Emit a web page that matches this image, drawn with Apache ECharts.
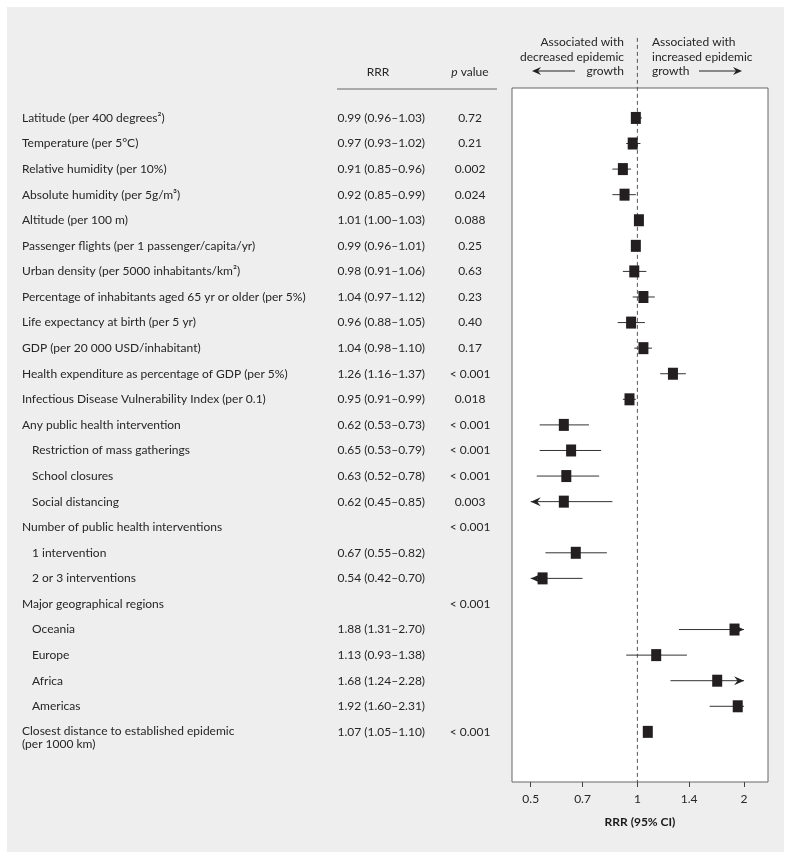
<!DOCTYPE html>
<html>
<head>
<meta charset="utf-8">
<script src="https://cdn.jsdelivr.net/npm/echarts@6/dist/echarts.min.js"></script>
<style>
html,body{margin:0;padding:0;background:#fff;}
#main{width:791px;height:859px;}
</style>
</head>
<body>
<div id="main"></div>
<script>
const names = [
  'Latitude (per 400 degrees\u00B2)',
  'Temperature (per 5\u00B0C)',
  'Relative humidity (per 10%)',
  'Absolute humidity (per 5g/m\u00B3)',
  'Altitude (per 100 m)',
  'Passenger flights (per 1 passenger/capita/yr)',
  'Urban density (per 5000 inhabitants/km\u00B2)',
  'Percentage of inhabitants aged 65 yr or older (per 5%)',
  'Life expectancy at birth (per 5 yr)',
  'GDP (per 20 000 USD/inhabitant)',
  'Health expenditure as percentage of GDP (per 5%)',
  'Infectious Disease Vulnerability Index (per 0.1)',
  'Any public health intervention',
  'Restriction of mass gatherings',
  'School closures',
  'Social distancing',
  'Number of public health interventions',
  '1 intervention',
  '2 or 3 interventions',
  'Major geographical regions',
  'Oceania',
  'Europe',
  'Africa',
  'Americas',
  'Closest distance to established epidemic\n(per 1000 km)'
];
const level = [0,0,0,0,0,0,0,0,0,0,0,0,0,1,1,1,0,1,1,0,1,1,1,1,0];
const rrrText = [
  '0.99 (0.96\u20131.03)','0.97 (0.93\u20131.02)','0.91 (0.85\u20130.96)','0.92 (0.85\u20130.99)',
  '1.01 (1.00\u20131.03)','0.99 (0.96\u20131.01)','0.98 (0.91\u20131.06)','1.04 (0.97\u20131.12)',
  '0.96 (0.88\u20131.05)','1.04 (0.98\u20131.10)','1.26 (1.16\u20131.37)','0.95 (0.91\u20130.99)',
  '0.62 (0.53\u20130.73)','0.65 (0.53\u20130.79)','0.63 (0.52\u20130.78)','0.62 (0.45\u20130.85)',
  '','0.67 (0.55\u20130.82)','0.54 (0.42\u20130.70)','',
  '1.88 (1.31\u20132.70)','1.13 (0.93\u20131.38)','1.68 (1.24\u20132.28)','1.92 (1.60\u20132.31)',
  '1.07 (1.05\u20131.10)'
];
const pText = [
  '0.72','0.21','0.002','0.024','0.088','0.25','0.63','0.23','0.40','0.17','< 0.001','0.018',
  '< 0.001','< 0.001','< 0.001','0.003','< 0.001','','','< 0.001','','','','','< 0.001'
];
const est = [0.99,0.97,0.91,0.92,1.01,0.99,0.98,1.04,0.96,1.04,1.26,0.95,0.62,0.65,0.63,0.62,null,0.67,0.54,null,1.88,1.13,1.68,1.92,1.07];
const lo  = [0.96,0.93,0.85,0.85,1.00,0.96,0.91,0.97,0.88,0.98,1.16,0.91,0.53,0.53,0.52,0.45,null,0.55,0.42,null,1.31,0.93,1.24,1.60,1.05];
const hi  = [1.03,1.02,0.96,0.99,1.03,1.01,1.06,1.12,1.05,1.10,1.37,0.99,0.73,0.79,0.78,0.85,null,0.82,0.70,null,2.70,1.38,2.28,2.31,1.10];
const ciArrow = [null,null,null,null,null,null,null,null,null,null,null,null,null,null,null,'left',null,null,'left',null,'right',null,'right',null,null];
const tickValues = [0.5, 0.7, 1, 1.4, 2];
const tickLabels = ['0.5','0.7','1','1.4','2'];
const clipMin = 0.5, clipMax = 2;

const FONT = 'Lato';
const TXT = '#262626';
const FS = 12;
const Y_MIN = -1.17, Y_MAX = 25.96;
const ln = Math.log;

const chart = echarts.init(document.getElementById('main'), null, {renderer: 'canvas'});

const forestData = [];
est.forEach((e, i) => { if (e != null) forestData.push([ln(e), i, ln(lo[i]), ln(hi[i])]); });
const tableData = names.map((n, i) => [0, i]);

function arrowHead(x, y, dir, color) {
  const s = dir === 'right' ? 1 : -1;
  return {
    type: 'polygon',
    shape: {points: [[x, y], [x - s * 10, y - 4.5], [x - s * 6.5, y], [x - s * 10, y + 4.5]]},
    style: {fill: color}
  };
}

const option = {
  backgroundColor: '#fff',
  animation: false,
  textStyle: {fontFamily: FONT},
  graphic: [
    {type: 'rect', z: -10, shape: {x: 7, y: 7, width: 777, height: 845}, style: {fill: '#edeeed'}},
    {type: 'text', style: {x: 378, y: 72, text: 'RRR', fill: TXT, font: FS + 'px ' + FONT, textAlign: 'center', textVerticalAlign: 'middle'}},
    {type: 'text', style: {x: 470, y: 72, text: '{i|p} value', fill: TXT, font: FS + 'px ' + FONT, textAlign: 'center', textVerticalAlign: 'middle',
      rich: {i: {fontStyle: 'italic', fontFamily: FONT, fontSize: FS, fill: TXT}}}},
    {type: 'line', shape: {x1: 337, y1: 89, x2: 497, y2: 89}, style: {stroke: '#666', lineWidth: 1}},
    {type: 'text', style: {x: 624, y: 35, text: 'Associated with\ndecreased epidemic\ngrowth', fill: TXT, font: FS + 'px ' + FONT, textAlign: 'right', textVerticalAlign: 'top', lineHeight: 14.5}},
    {type: 'text', style: {x: 652, y: 35, text: 'Associated with\nincreased epidemic\ngrowth', fill: TXT, font: FS + 'px ' + FONT, textAlign: 'left', textVerticalAlign: 'top', lineHeight: 14.5}},
    {type: 'line', shape: {x1: 536, y1: 71, x2: 575, y2: 71}, style: {stroke: '#222', lineWidth: 1}},
    {type: 'polygon', shape: {points: [[532, 71], [541, 67], [538, 71], [541, 75]]}, style: {fill: '#222'}},
    {type: 'line', shape: {x1: 699, y1: 71, x2: 738, y2: 71}, style: {stroke: '#222', lineWidth: 1}},
    {type: 'polygon', shape: {points: [[742, 71], [733, 67], [736, 71], [733, 75]]}, style: {fill: '#222'}}
  ],
  grid: [
    {left: 0, top: 88, width: 512, height: 694, show: false},
    {left: 512, top: 88, width: 256, height: 694, show: true, backgroundColor: '#ffffff', borderColor: '#666', borderWidth: 1}
  ],
  xAxis: [
    {gridIndex: 0, type: 'value', min: 0, max: 512, show: false},
    {gridIndex: 1, type: 'value', min: -0.815, max: 0.849, position: 'bottom',
      axisLine: {show: false, onZero: false},
      splitLine: {show: false},
      axisTick: {show: true, length: 5, customValues: tickValues.map(ln), lineStyle: {color: '#444'}},
      axisLabel: {show: true, customValues: tickValues.map(ln), margin: 11, color: TXT, fontSize: FS, fontFamily: FONT,
        formatter: function (v) {
          let best = 0;
          tickValues.forEach((t, k) => { if (Math.abs(ln(t) - v) < Math.abs(ln(tickValues[best]) - v)) best = k; });
          return tickLabels[best];
        }},
      name: 'RRR (95% CI)', nameLocation: 'middle', nameGap: 34,
      nameTextStyle: {fontWeight: 'bold', fontSize: FS, color: '#1a1a1a', fontFamily: FONT}
    }
  ],
  yAxis: [
    {gridIndex: 0, type: 'value', inverse: true, min: Y_MIN, max: Y_MAX, show: false, axisLine: {onZero: false}},
    {gridIndex: 1, type: 'value', inverse: true, min: Y_MIN, max: Y_MAX, show: false, axisLine: {onZero: false}}
  ],
  series: [
    {
      type: 'custom', xAxisIndex: 0, yAxisIndex: 0, clip: false,
      data: tableData, encode: {x: 0, y: 1},
      renderItem: function (params, api) {
        const i = api.value(1);
        const p = api.coord([0, i]);
        const y = p[1];
        const two = names[i].indexOf('\n') >= 0;
        const base = {fill: TXT, font: FS + 'px ' + FONT};
        return {
          type: 'group',
          children: [
            {type: 'text', style: Object.assign({}, base, {x: 22 + level[i] * 10, y: two ? y - 7 : y, text: names[i], textAlign: 'left', textVerticalAlign: two ? 'top' : 'middle', lineHeight: 13})},
            {type: 'text', style: Object.assign({}, base, {x: 337.5, y: y, text: rrrText[i], textAlign: 'left', textVerticalAlign: 'middle'})},
            {type: 'text', style: Object.assign({}, base, {x: 470, y: y, text: pText[i], textAlign: 'center', textVerticalAlign: 'middle'})}
          ]
        };
      }
    },
    {
      type: 'custom', xAxisIndex: 1, yAxisIndex: 1, clip: false, z: 1,
      data: [[0, 0]], encode: {x: 0, y: 1},
      renderItem: function (params, api) {
        const a = api.coord([0, -3.13]);
        const b = api.coord([0, Y_MAX]);
        return {type: 'line', shape: {x1: a[0], y1: a[1], x2: b[0], y2: b[1]}, style: {stroke: '#555', lineWidth: 1, lineDash: [4, 3]}};
      }
    },
    {
      type: 'custom', xAxisIndex: 1, yAxisIndex: 1, clip: false, z: 2,
      data: forestData, encode: {x: 0, y: 1},
      renderItem: function (params, api) {
        const i = api.value(1);
        const e = api.coord([api.value(0), i]);
        const l = api.coord([Math.max(api.value(2), ln(clipMin)), i]);
        const h = api.coord([Math.min(api.value(3), ln(clipMax)), i]);
        const children = [
          {type: 'line', shape: {x1: l[0], y1: l[1], x2: h[0], y2: h[1]}, style: {stroke: '#333', lineWidth: 1}}
        ];
        if (ciArrow[i] === 'left') children.push(arrowHead(l[0], l[1], 'left', '#222'));
        if (ciArrow[i] === 'right') children.push(arrowHead(h[0], h[1], 'right', '#222'));
        children.push({type: 'rect', shape: {x: e[0] - 5, y: e[1] - 6, width: 10, height: 12}, style: {fill: '#231f20'}});
        return {type: 'group', children: children};
      }
    }
  ]
};
chart.setOption(option);
</script>
</body>
</html>
